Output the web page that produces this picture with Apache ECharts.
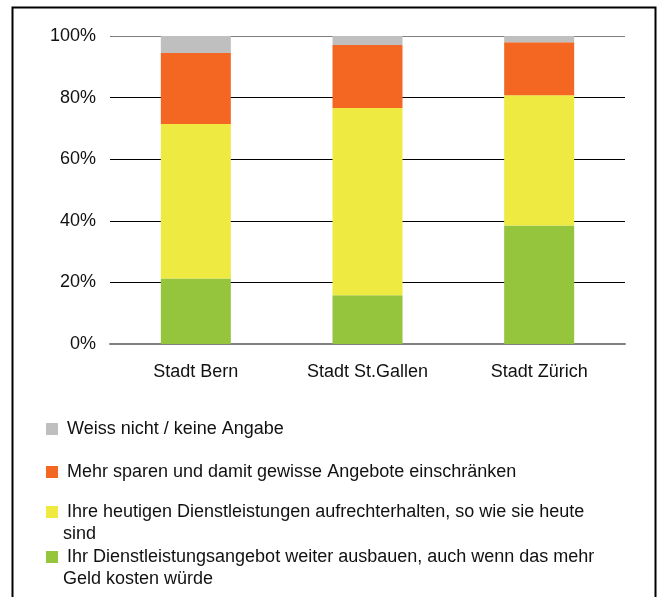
<!DOCTYPE html>
<html>
<head>
<meta charset="utf-8">
<script src="https://cdn.jsdelivr.net/npm/echarts@6/dist/echarts.min.js"></script>
<style>
  html, body { margin: 0; padding: 0; background: #fff; }
  #chart { width: 662px; height: 597px; }
</style>
</head>
<body>
<div id="chart"></div>
<script>
const categories = ['Stadt Bern', 'Stadt St.Gallen', 'Stadt Zürich']
const seriesNames = [
  'Ihr Dienstleistungsangebot weiter ausbauen, auch wenn das mehr\nGeld kosten würde',
  'Ihre heutigen Dienstleistungen aufrechterhalten, so wie sie heute\nsind',
  'Mehr sparen und damit gewisse Angebote einschränken',
  'Weiss nicht / keine Angabe'
]
const ausbauen = [21.3, 15.8, 38.5]
const aufrechterhalten = [50.1, 60.8, 42.3]
const sparen = [23.1, 20.5, 17.2]
const weissNicht = [5.5, 2.9, 2.0]
const colors = ['#95c43d', '#eeea41', '#f46722', '#bfbfbf']

const font = 'Liberation Sans, Arial, sans-serif'
const myChart = echarts.init(document.getElementById('chart'))

// one legend per item so the order/positions match the original (top item = gray)
const legendTops = [418, 461, 479, 524]
const legendOrder = [3, 2, 1, 0]
const legends = legendOrder.map((idx, i) => ({
  orient: 'vertical',
  left: 46,
  top: legendTops[i],
  padding: 0,
  itemWidth: 12,
  itemHeight: 12,
  selectedMode: false,
  data: [{ name: seriesNames[idx], icon: 'rect' }],
  formatter: (name) => {
    const parts = name.split('\n')
    const txt = parts.map((p, k) => (k === 0 ? '{f|' + p + '}' : '{s|' + p + '}')).join('\n')
    // empty first line keeps the icon level with the first text line
    return parts.length > 1 ? '{s|}\n' + txt : txt
  },
  textStyle: {
    fontFamily: font,
    fontSize: 18,
    lineHeight: 22,
    color: '#111',
    rich: {
      f: { fontFamily: font, fontSize: 18, color: '#111', lineHeight: 22, padding: [0, 0, 0, 4] },
      s: { fontFamily: font, fontSize: 18, color: '#111', lineHeight: 22 }
    }
  }
}))

const values = [ausbauen, aufrechterhalten, sparen, weissNicht]

const option = {
  animation: false,
  backgroundColor: '#fff',
  graphic: [{
    type: 'rect',
    shape: { x: 12.5, y: 7.5, width: 643, height: 650 },
    style: { fill: 'none', stroke: '#000', lineWidth: 2 },
    silent: true
  }],
  legend: legends,
  grid: { left: 110, right: 37, top: 36, bottom: 253 },
  xAxis: {
    type: 'category',
    data: categories,
    axisTick: { show: false },
    axisLine: { lineStyle: { color: '#808080', width: 2 } },
    axisLabel: { fontFamily: font, fontSize: 18, color: '#111', margin: 19 }
  },
  yAxis: {
    type: 'value',
    min: 0,
    max: 100,
    interval: 20,
    axisLine: { show: false },
    axisTick: { show: false },
    axisLabel: { formatter: '{value}%', fontFamily: font, fontSize: 18, color: '#111', margin: 14 },
    splitLine: {
      lineStyle: {
        color: ['#808080', '#000', '#000', '#000', '#000', '#808080'],
        width: 1
      }
    }
  },
  series: values.map((v, i) => ({
    name: seriesNames[i],
    type: 'bar',
    stack: 'total',
    barWidth: 70,
    data: v,
    itemStyle: { color: colors[i] }
  }))
}

myChart.setOption(option)
</script>
</body>
</html>
